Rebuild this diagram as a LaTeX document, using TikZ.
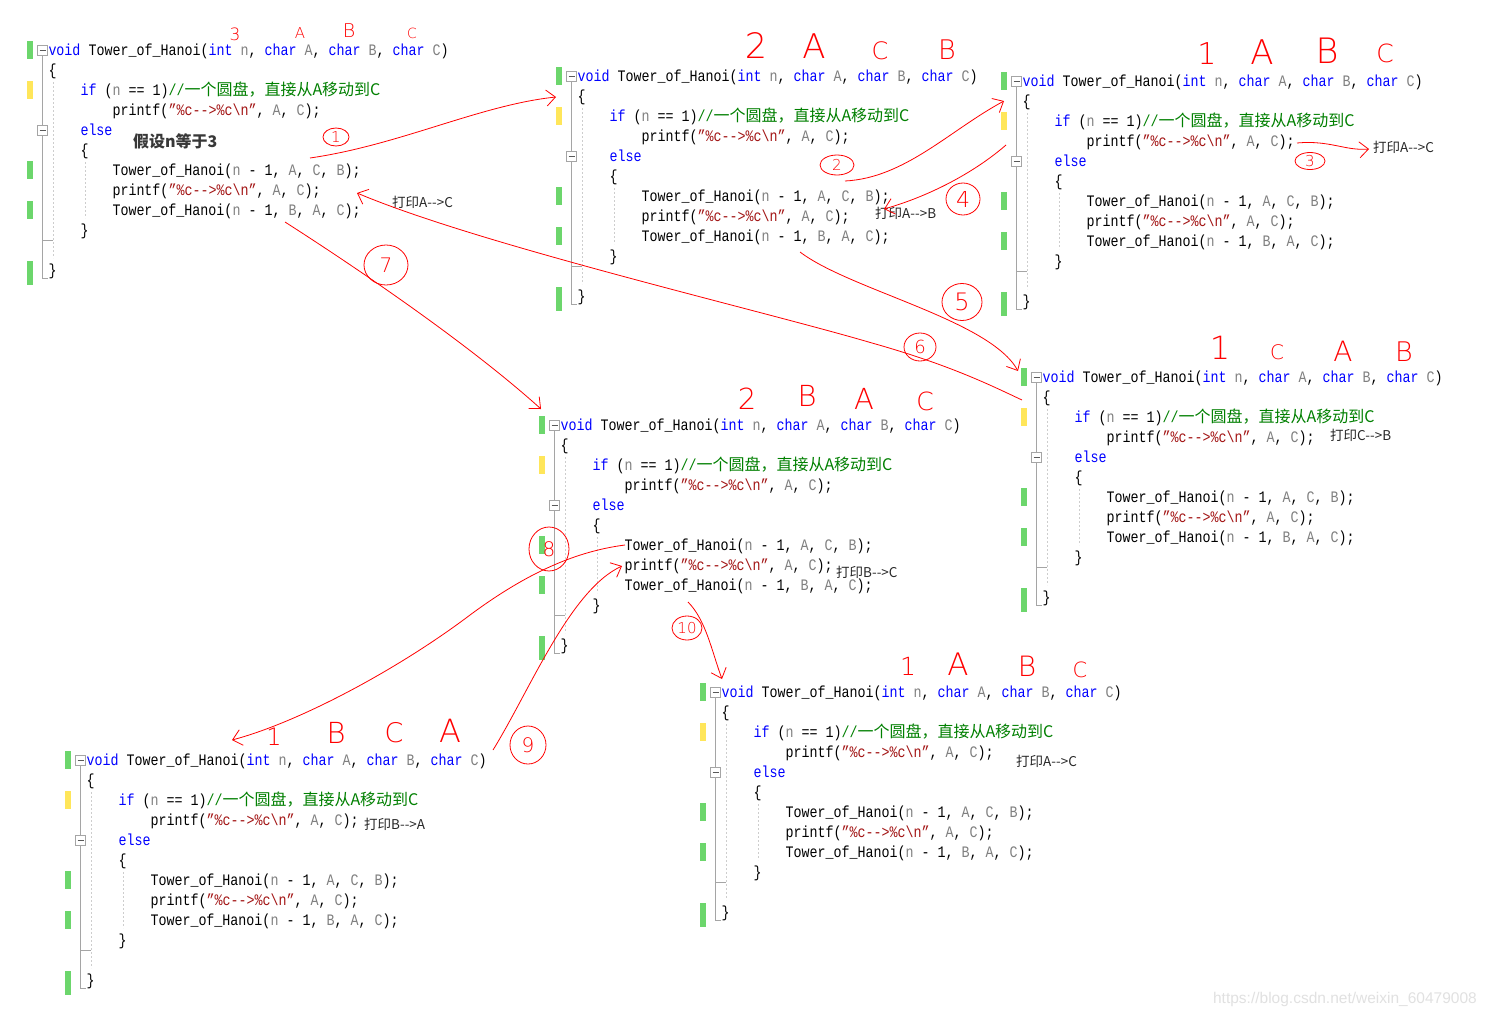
\documentclass[tikz,border=0pt]{standalone}
\usepackage{fontspec}
\setmonofont[FakeStretch=0.8333]{Liberation Mono}
\newfontfamily\cjkf[Ligatures=TeXOff]{Noto Sans CJK SC}
\newfontfamily\handf[Ligatures=TeXOff]{DejaVu Sans ExtraLight}
\newfontfamily\wmf[Ligatures=TeXOff]{Liberation Sans}
\usetikzlibrary{arrows.meta,shapes.geometric}
\definecolor{kwblue}{RGB}{0,0,255}
\definecolor{pgray}{RGB}{128,128,128}
\definecolor{strred}{RGB}{163,21,21}
\definecolor{cmgreen}{RGB}{0,128,0}
\definecolor{barg}{RGB}{108,214,108}
\definecolor{bary}{RGB}{255,230,90}
\definecolor{foldg}{RGB}{165,165,165}
\definecolor{dashg}{RGB}{205,205,205}
\definecolor{inkred}{RGB}{255,0,0}
\definecolor{lbl}{RGB}{40,40,40}
\definecolor{wmark}{RGB}{225,225,225}
\newcommand\kwd[1]{\textcolor{kwblue}{#1}}
\newcommand\prm[1]{\textcolor{pgray}{#1}}
\newcommand\fmtstr{\textcolor{strred}{”\%c-->\%c\textbackslash n”}}
\newcommand\cmtxt{\textcolor{cmgreen}{//{\cjkf\fontsize{16}{16}\selectfont 一个圆盘，直接从A移动到C}}}
\tikzset{
  codeline/.style={anchor=base west, inner sep=0pt, outer sep=0pt, font=\ttfamily\fontsize{16}{20}\selectfont},
  foldbox/.style={draw=foldg, fill=white, rectangle, minimum width=10pt, minimum height=10pt, inner sep=0pt, line width=0.8pt},
  foldminus/.style={draw=black!65, line width=0.8pt},
  hand/.style={text=inkred, inner sep=0pt, font=\handf\fontsize{#1}{#1}\selectfont},
  circnum/.style={ellipse, draw=inkred, line width=0.8pt, text=inkred, inner sep=0pt, font=\handf\fontsize{15}{15}\selectfont},
  redarrow/.style={draw=inkred, line width=0.8pt, -{Straight Barb[length=9pt,width=16pt,line width=0.8pt]}},
  printlbl/.style={anchor=west, inner sep=0pt, text=lbl, font=\cjkf\fontsize{13.5}{13.5}\selectfont},
}
\newcommand\hanoiblock[3]{%
\begin{scope}[shift={(#2,#3)}]
  \fill[barg] (0,-14) rectangle (6,4);
  \fill[bary] (0,26) rectangle (6,44);
  \fill[barg] (0,106) rectangle (6,124);
  \fill[barg] (0,146) rectangle (6,164);
  \fill[barg] (0,206) rectangle (6,230);
  \draw[foldg, line width=0.8pt] (15.5,0) -- (15.5,70) (15.5,80) -- (15.5,223) -- (21,223);
  \draw[foldg, line width=0.8pt] (15.5,185) -- (26,185);
  \draw[dashg, line width=0.8pt, dash pattern=on 2pt off 2pt] (26.5,27) -- (26.5,203);
  \draw[dashg, line width=0.8pt, dash pattern=on 2pt off 2pt] (58.5,107) -- (58.5,163);
  \node[foldbox] (#1fa) at (15.5,-5) {};
  \node[foldbox] (#1fb) at (15.5,75) {};
  \draw[foldminus] ([xshift=-3pt]#1fa.center) -- ([xshift=3pt]#1fa.center);
  \draw[foldminus] ([xshift=-3pt]#1fb.center) -- ([xshift=3pt]#1fb.center);
  \node[codeline] (#1l0) at (21.5,0) {\kwd{void} Tower\_of\_Hanoi(\kwd{int} \prm{n}, \kwd{char} \prm{A}, \kwd{char} \prm{B}, \kwd{char} \prm{C})};
  \node[codeline] (#1l1) at (21.5,20) {\{};
  \node[codeline] (#1l2) at (53.5,40) {\kwd{if} (\prm{n} == 1)\cmtxt};
  \node[codeline] (#1l3) at (85.5,60) {printf(\fmtstr, \prm{A}, \prm{C});};
  \node[codeline] (#1l4) at (53.5,80) {\kwd{else}};
  \node[codeline] (#1l5) at (53.5,100) {\{};
  \node[codeline] (#1l6) at (85.5,120) {Tower\_of\_Hanoi(\prm{n} - 1, \prm{A}, \prm{C}, \prm{B});};
  \node[codeline] (#1l7) at (85.5,140) {printf(\fmtstr, \prm{A}, \prm{C});};
  \node[codeline] (#1l8) at (85.5,160) {Tower\_of\_Hanoi(\prm{n} - 1, \prm{B}, \prm{A}, \prm{C});};
  \node[codeline] (#1l9) at (53.5,180) {\}};
  \node[codeline] (#1lb) at (21.5,220) {\}};
\end{scope}}
\begin{document}
\begin{tikzpicture}[x=1pt,y=-1pt]
\fill[white] (0,0) rectangle (1486,1015);
\useasboundingbox (0,0) rectangle (1486,1015);

% code blocks
\hanoiblock{ba}{27}{55}
\hanoiblock{bb}{556}{81}
\hanoiblock{bc}{1001}{86}
\hanoiblock{bd}{1021}{382}
\hanoiblock{be}{539}{430}
\hanoiblock{bf}{65}{765}
\hanoiblock{bg}{700}{697}

% assumption text
\node[anchor=west, inner sep=0pt, text=black!78, font=\cjkf\bfseries\fontsize{16}{16}\selectfont] (assume) at (133,141) {假设n等于3};

% print labels
\node[printlbl] (pa) at (392,202) {打印A-->C};
\node[printlbl] (pb) at (875,213) {打印A-->B};
\node[printlbl] (pc) at (1373,147) {打印A-->C};
\node[printlbl] (pd) at (1330,435) {打印C-->B};
\node[printlbl] (pe) at (836,572) {打印B-->C};
\node[printlbl] (pf) at (364,824) {打印B-->A};
\node[printlbl] (pg) at (1016,761) {打印A-->C};

% handwritten parameter values
\node[hand=17] (ha1) at (235,34) {3};
\node[hand=15] (ha2) at (300,33) {A};
\node[hand=19] (ha3) at (349,31) {B};
\node[hand=14] (ha4) at (412,33) {C};

\node[hand=35] (hb1) at (756,46) {2};
\node[hand=34] (hb2) at (814,46) {A};
\node[hand=24] (hb3) at (880,51) {C};
\node[hand=27] (hb4) at (947,50) {B};

\node[hand=30] (hc1) at (1207,54) {1};
\node[hand=34] (hc2) at (1262,52) {A};
\node[hand=35] (hc3) at (1327,51) {B};
\node[hand=25] (hc4) at (1385,53) {C};

\node[hand=32] (hd1) at (1220,348) {1};
\node[hand=20] (hd2) at (1277,352) {C};
\node[hand=28] (hd3) at (1343,351) {A};
\node[hand=27] (hd4) at (1404,352) {B};

\node[hand=29] (he1) at (747,399) {2};
\node[hand=29] (he2) at (807,396) {B};
\node[hand=29] (he3) at (864,399) {A};
\node[hand=25] (he4) at (925,401) {C};

\node[hand=24] (hf1) at (274,737) {1};
\node[hand=29] (hf2) at (336,733) {B};
\node[hand=27] (hf3) at (394,733) {C};
\node[hand=32] (hf4) at (450,731) {A};

\node[hand=25] (hg1) at (908,666) {1};
\node[hand=31] (hg2) at (958,664) {A};
\node[hand=28] (hg3) at (1027,666) {B};
\node[hand=21] (hg4) at (1080,670) {C};

% circled step numbers
\node[circnum, minimum width=26pt, minimum height=18pt] (c1) at (336,137) {1};
\node[circnum, minimum width=34pt, minimum height=20pt] (c2) at (837,165) {2};
\node[circnum, minimum width=30pt, minimum height=17pt] (c3) at (1310,161) {3};
\node[circnum, minimum width=34pt, minimum height=32pt, font=\handf\fontsize{22}{22}\selectfont] (c4) at (963,199) {4};
\node[circnum, minimum width=40pt, minimum height=37pt, font=\handf\fontsize{24}{24}\selectfont] (c5) at (962,302) {5};
\node[circnum, minimum width=32pt, minimum height=28pt, font=\handf\fontsize{18}{18}\selectfont] (c6) at (920,347) {6};
\node[circnum, minimum width=44pt, minimum height=40pt, font=\handf\fontsize{20}{20}\selectfont] (c7) at (386,265) {7};
\node[circnum, minimum width=40pt, minimum height=44pt, font=\handf\fontsize{20}{20}\selectfont] (c8) at (549,549) {8};
\node[circnum, minimum width=36pt, minimum height=38pt, font=\handf\fontsize{20}{20}\selectfont] (c9) at (528,745) {9};
\node[circnum, minimum width=30pt, minimum height=24pt, font=\handf\fontsize{15}{15}\selectfont] (c10) at (687,628) {10};

% arrow end points
\coordinate (a1s) at (310,158);  \coordinate (a1e) at (556,97);
\coordinate (a2s) at (845,181);  \coordinate (a2e) at (1004,101);
\coordinate (a3s) at (1297,143); \coordinate (a3e) at (1369,149);
\coordinate (a4s) at (1006,145); \coordinate (a4e) at (884,209);
\coordinate (a5s) at (800,252);  \coordinate (a5e) at (1018,371);
\coordinate (a6s) at (1022,400); \coordinate (a6e) at (357,193);
\coordinate (a7s) at (285,222);  \coordinate (a7e) at (541,409);
\coordinate (a8s) at (625,545);  \coordinate (a8e) at (232,740);
\coordinate (a9s) at (493,750);  \coordinate (a9e) at (622,566);
\coordinate (a10s) at (688,602); \coordinate (a10e) at (722,679);

% red hand-drawn arrows
\draw[redarrow] (a1s) .. controls (400,145) and (480,105) .. (a1e);
\draw[redarrow] (a2s) .. controls (905,178) and (950,130) .. (a2e);
\draw[redarrow] (a3s) .. controls (1330,140) and (1345,151) .. (a3e);
\draw[redarrow] (a4s) .. controls (975,172) and (930,196) .. (a4e);
\draw[redarrow] (a5s) .. controls (850,290) and (990,320) .. (a5e);
\draw[redarrow] (a6s) .. controls (990,385) and (950,365) .. (872,343) .. controls (760,310) and (480,245) .. (a6e);
\draw[redarrow] (a7s) .. controls (360,270) and (470,345) .. (a7e);
\draw[redarrow] (a8s) .. controls (570,552) and (520,578) .. (470,615) .. controls (400,668) and (300,722) .. (a8e);
\draw[redarrow] (a9s) .. controls (530,690) and (570,590) .. (a9e);
\draw[redarrow] (a10s) .. controls (706,620) and (712,652) .. (a10e);

% watermark
\node[anchor=base east, inner sep=0pt, text=wmark, font=\wmf\fontsize{15.5}{15.5}\selectfont] (wm) at (1477,1003) {https://blog.csdn.net/weixin\_60479008};
\end{tikzpicture}
\end{document}
